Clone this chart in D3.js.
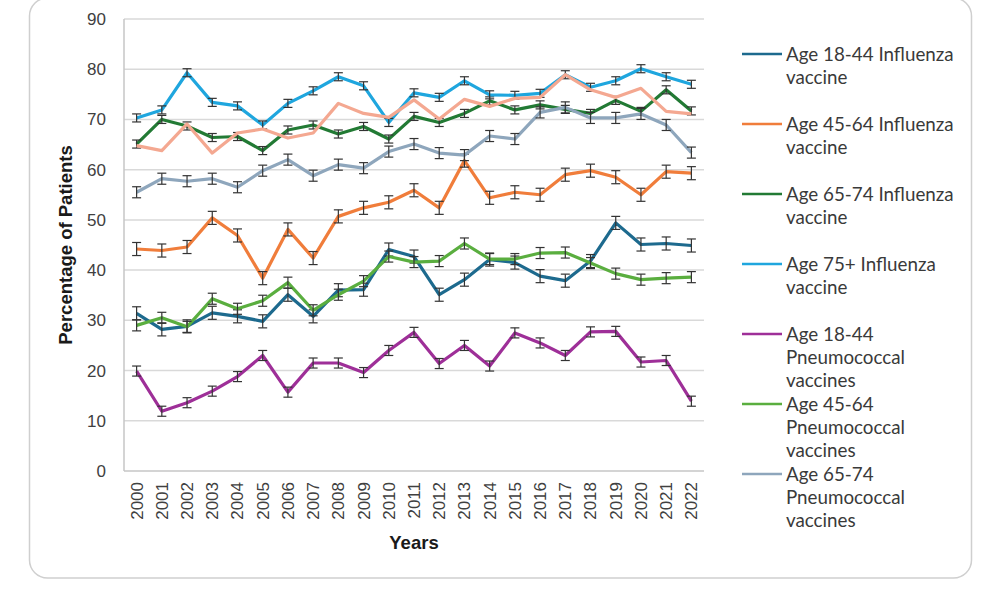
<!DOCTYPE html>
<html>
<head>
<meta charset="utf-8">
<script src="https://cdn.jsdelivr.net/npm/d3@7"></script>
<style>
  body { margin: 0; background: #fff; }
  svg { display: block; }
</style>
</head>
<body>
<svg id="chart" width="989" height="591"></svg>
<script>
// data
var years = d3.range(2000, 2023).map(String);

var seriesNames = [
  "Age 18-44 Influenza vaccine",
  "Age 45-64 Influenza vaccine",
  "Age 65-74 Influenza vaccine",
  "Age 75+ Influenza vaccine",
  "Age 18-44 Pneumococcal vaccines",
  "Age 45-64 Pneumococcal vaccines",
  "Age 65-74 Pneumococcal vaccines",
  "Age 75+ Pneumococcal vaccines"
];

var flu1844 = [31.4, 28.2, 28.8, 31.5, 30.8, 29.8, 35.1, 30.8, 36.0, 36.1, 44.1, 42.7, 35.1, 38.1, 42.1, 41.5, 38.8, 37.9, 41.8, 49.4, 45.1, 45.3, 44.9];
var flu4564 = [44.2, 43.9, 44.6, 50.4, 46.9, 38.4, 48.1, 42.4, 50.7, 52.4, 53.5, 55.9, 52.4, 61.8, 54.4, 55.5, 55.0, 59.0, 59.8, 58.5, 55.0, 59.6, 59.3];
var flu6574 = [65.1, 70.0, 68.7, 66.4, 66.6, 63.8, 67.9, 68.9, 67.1, 68.6, 66.1, 70.6, 69.4, 71.2, 73.7, 71.9, 72.9, 72.0, 71.2, 73.8, 71.6, 75.9, 71.7];
var flu75 = [70.3, 71.9, 79.3, 73.4, 72.7, 68.9, 73.2, 75.7, 78.5, 76.7, 69.4, 75.3, 74.4, 77.7, 74.9, 74.8, 75.2, 78.9, 76.4, 77.7, 80.1, 78.5, 77.0];
var pneu1844 = [19.9, 11.9, 13.6, 15.9, 18.8, 23.0, 15.7, 21.5, 21.5, 19.6, 24.0, 27.6, 21.4, 25.0, 20.9, 27.5, 25.5, 23.0, 27.7, 27.8, 21.7, 22.0, 13.9];
var pneu4564 = [29.0, 30.5, 28.7, 34.3, 32.3, 33.9, 37.5, 32.0, 35.1, 37.8, 42.7, 41.6, 41.8, 45.3, 42.2, 42.2, 43.4, 43.5, 41.4, 39.3, 38.1, 38.4, 38.6];
var pneu6574 = [55.5, 58.2, 57.7, 58.2, 56.5, 59.8, 62.0, 58.8, 61.0, 60.3, 63.6, 65.1, 63.3, 62.9, 66.7, 66.1, 71.4, 72.4, 70.3, 70.3, 71.1, 68.9, 63.4];
var pneu75 = [64.8, 63.8, 69.1, 63.3, 67.3, 68.1, 66.3, 67.3, 73.2, 71.2, 70.4, 73.9, 70.1, 74.0, 72.6, 74.2, 74.4, 78.9, 75.9, 74.4, 76.2, 71.6, 71.1];

// +/- error per series (the last one has no bars)
var errorMargins = [1.3, 1.3, 0.8, 0.8, 1.0, 1.1, 1.1, 0];

var seriesColors = ["#1d6a8e", "#f07d3b", "#227a34", "#1fa6de", "#9e2f98", "#5aae3f", "#8ea6bc", "#f4a891"];

var yTicks = [0, 10, 20, 30, 40, 50, 60, 70, 80, 90];

var allValues = [flu1844, flu4564, flu6574, flu75, pneu1844, pneu4564, pneu6574, pneu75];

var series = seriesNames.map(function(name, i){
  return {
    name: name,
    color: seriesColors[i],
    err: errorMargins[i],
    values: allValues[i].map(function(v, j){ return { year: years[j], value: v }; })
  };
});

var svg = d3.select("#chart");

var margin = { left: 124, right: 285, top: 19, bottom: 120 };
var W = 989, H = 591;

// outer card
svg.append("rect")
  .attr("x", 29.5).attr("y", -2)
  .attr("width", 942).attr("height", 580)
  .attr("rx", 18)
  .attr("fill", "#fff")
  .attr("stroke", "#cfcfcf")
  .attr("stroke-width", 1.5);

var x = d3.scalePoint()
  .domain(years)
  .range([margin.left, W - margin.right])
  .padding(0.5);

var y = d3.scaleLinear()
  .domain([0, 90])
  .range([H - margin.bottom, margin.top]);

// gridlines
svg.append("g")
  .selectAll("line")
  .data(yTicks)
  .enter().append("line")
    .attr("x1", margin.left)
    .attr("x2", W - margin.right)
    .attr("y1", d => y(d))
    .attr("y2", d => y(d))
    .attr("stroke", d => d === 0 ? "#c6c6c6" : "#d9d9d9")
    .attr("stroke-width", 1.5);

// left axis line
svg.append("line")
  .attr("x1", margin.left).attr("x2", margin.left)
  .attr("y1", y(90)).attr("y2", y(0))
  .attr("stroke", "#c6c6c6")
  .attr("stroke-width", 1.5);

// y tick labels
svg.append("g")
  .selectAll("text")
  .data(yTicks)
  .enter().append("text")
    .text(d => d)
    .attr("x", 106)
    .attr("y", d => y(d))
    .attr("dy", "0.35em")
    .attr("text-anchor", "end")
    .style("font-family", "Liberation Sans, Arial, sans-serif")
    .style("font-size", "17px")
    .attr("fill", "#404040");

// x tick labels
svg.append("g")
  .selectAll("text")
  .data(years)
  .enter().append("text")
    .text(d => d)
    .attr("transform", d => "translate(" + x(d) + "," + (y(0) + 11) + ") rotate(-90)")
    .attr("dy", "0.35em")
    .attr("text-anchor", "end")
    .style("font-family", "Liberation Sans, Arial, sans-serif")
    .style("font-size", "17px")
    .attr("fill", "#404040");

// axis titles
svg.append("text")
  .text("Percentage of Patients")
  .attr("transform", "translate(66," + ((y(0) + y(90)) / 2) + ") rotate(-90)")
  .attr("dy", "0.35em")
  .attr("text-anchor", "middle")
  .style("font-family", "Liberation Sans, Arial, sans-serif")
  .style("font-size", "18.5px")
  .style("font-weight", "bold")
  .attr("fill", "#1a1a1a");

svg.append("text")
  .text("Years")
  .attr("x", (margin.left + W - margin.right) / 2)
  .attr("y", 549)
  .attr("text-anchor", "middle")
  .style("font-family", "Liberation Sans, Arial, sans-serif")
  .style("font-size", "18.5px")
  .style("font-weight", "bold")
  .attr("fill", "#1a1a1a");

// lines
var line = d3.line()
  .x(d => x(d.year))
  .y(d => y(d.value));

var seriesG = svg.append("g")
  .selectAll("g")
  .data(series)
  .enter().append("g");

seriesG.append("path")
  .attr("d", d => line(d.values))
  .attr("fill", "none")
  .attr("stroke", d => d.color)
  .attr("stroke-width", 3.2)
  .attr("stroke-linejoin", "round");

// error bars
seriesG.filter(d => d.err > 0).each(function(s){
  var g = d3.select(this).append("g")
    .attr("stroke", "#333")
    .attr("stroke-width", 1.2);
  var bars = g.selectAll("g")
    .data(s.values)
    .enter().append("g");
  bars.append("line")
    .attr("x1", d => x(d.year)).attr("x2", d => x(d.year))
    .attr("y1", d => y(d.value - s.err)).attr("y2", d => y(d.value + s.err));
  bars.append("line")
    .attr("x1", d => x(d.year) - 4.5).attr("x2", d => x(d.year) + 4.5)
    .attr("y1", d => y(d.value - s.err)).attr("y2", d => y(d.value - s.err));
  bars.append("line")
    .attr("x1", d => x(d.year) - 4.5).attr("x2", d => x(d.year) + 4.5)
    .attr("y1", d => y(d.value + s.err)).attr("y2", d => y(d.value + s.err));
});

// legend: the box only has room for the first seven entries, like the original
var legendStep = 70, legendTop = 54, legendBottom = 535;
var legendItems = series.filter((d, i) => legendTop + i * legendStep < legendBottom);

var legend = svg.append("g")
  .selectAll("g")
  .data(legendItems)
  .enter().append("g")
    .attr("transform", (d, i) => "translate(742," + (legendTop + i * legendStep) + ")");

legend.append("line")
  .attr("x1", 0).attr("x2", 40)
  .attr("stroke", d => d.color)
  .attr("stroke-width", 2.5);

legend.each(function(d){
  // wrap like the original: the influenza labels on 2 lines, pneumococcal on 3
  var words = d.name.split(" ");
  var lines = d.name.indexOf("Influenza") > -1
    ? [words.slice(0, 3).join(" "), words.slice(3).join(" ")]
    : [words.slice(0, 2).join(" "), words[2], words.slice(3).join(" ")];
  var t = d3.select(this).append("text")
    .attr("x", 44)
    .attr("y", 0)
    .style("font-family", "Lato, sans-serif")
    .style("font-size", "18.8px")
    .attr("fill", "#3a3a3a");
  t.selectAll("tspan")
    .data(lines)
    .enter().append("tspan")
      .attr("x", 44)
      .attr("dy", (l, i) => i === 0 ? "0.35em" : "23px")
      .text(l => l);
});
</script>
</body>
</html>
